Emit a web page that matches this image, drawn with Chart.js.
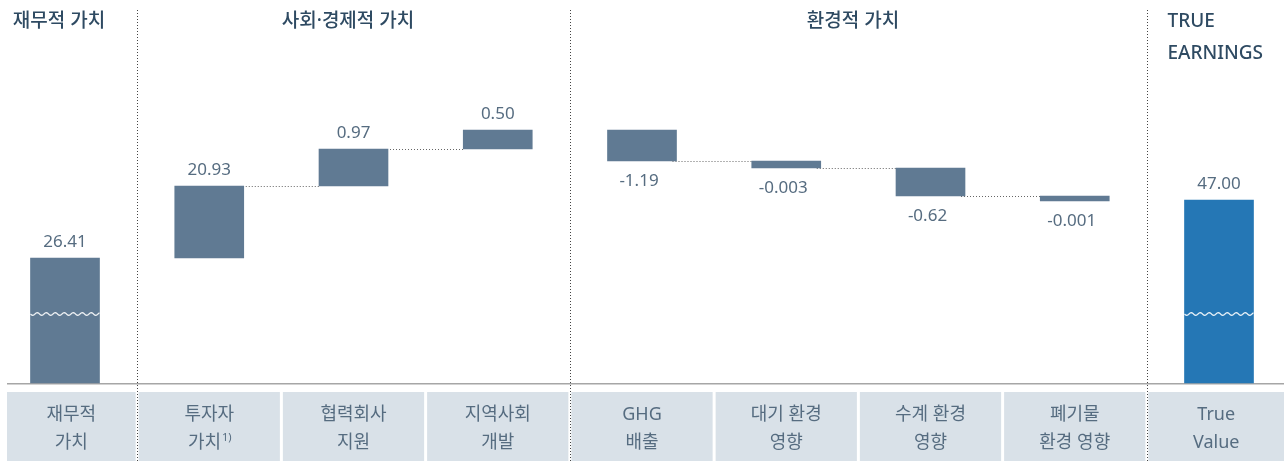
<!DOCTYPE html>
<html>
<head>
<meta charset="utf-8">
<script src="https://cdn.jsdelivr.net/npm/chart.js@4.4.1/dist/chart.umd.min.js"></script>
<style>
    html, body { margin: 0; padding: 0; background: #fff; }
    #wrap { width: 1284px; height: 461px; position: relative; }
</style>
</head>
<body>
<div id="wrap"><canvas id="chart"></canvas></div>
<script>
const categories = [
    ['재무적', '가치'], ['투자자', '가치'], ['협력회사', '지원'], ['지역사회', '개발'],
    ['GHG', '배출'], ['대기 환경', '영향'], ['수계 환경', '영향'], ['폐기물', '환경 영향'],
    ['True', 'Value']
];
const footnotes = ['', '1)', '', '', '', '', '', '', ''];
const valueLabels = ['26.41', '20.93', '0.97', '0.50', '-1.19', '-0.003', '-0.62', '-0.001', '47.00'];

// the drawing is not to scale (broken axis), so bar extents are read off the picture
const barStart = [0, 125, 197, 234, 253, 222, 215, 187, 0];
const barEnd = [125, 197, 234, 253, 222, 215, 187, 182, 183];

const groupTitles = [['재무적 가치'], ['사회·경제적 가치'], ['환경적 가치'], ['TRUE', 'EARNINGS']];
const groupFirst = [0, 1, 4, 8];
const brokenBars = [0, 8];

const BAR = '#607a93';
const TOTAL = '#2577b5';
const TEXT = '#566c80';
const HEAD = '#2e4a62';
const FONT = '"Noto Sans", "Noto Sans CJK KR", sans-serif';

const decor = {
    id: 'decor',
    beforeDatasetsDraw(chart) {
        const { ctx, scales: { x, y } } = chart;
        const step = x.getPixelForValue(1) - x.getPixelForValue(0);
        const n = categories.length;
        ctx.save();

        // category boxes + labels
        categories.forEach((lines, i) => {
            const cx = x.getPixelForValue(i);
            const left = i === 0 ? 7 : cx - step / 2 + 1.5;
            const right = i === n - 1 ? chart.width : cx + step / 2 - 1.5;
            ctx.fillStyle = '#d9e1e8';
            ctx.fillRect(left, 392, right - left, chart.height - 392);

            const mid = (left + right) / 2;
            ctx.fillStyle = TEXT;
            ctx.font = `18px ${FONT}`;
            ctx.textBaseline = 'middle';
            lines.forEach((line, k) => {
                const ty = 415 + k * 28;
                if (k === 1 && footnotes[i]) {
                    ctx.font = `18px ${FONT}`;
                    const w1 = ctx.measureText(line).width;
                    ctx.font = `11px ${FONT}`;
                    const w2 = ctx.measureText(footnotes[i]).width;
                    const start = mid - (w1 + w2) / 2;
                    ctx.textAlign = 'left';
                    ctx.font = `18px ${FONT}`;
                    ctx.fillText(line, start, ty);
                    ctx.font = `11px ${FONT}`;
                    ctx.fillText(footnotes[i], start + w1 + 1, ty - 5);
                    ctx.font = `18px ${FONT}`;
                } else {
                    ctx.textAlign = 'center';
                    ctx.fillText(line, mid, ty);
                }
            });
        });

        // baseline
        ctx.strokeStyle = '#a6a6a6';
        ctx.lineWidth = 1.5;
        ctx.beginPath();
        ctx.moveTo(7, y.getPixelForValue(0) + 0.75);
        ctx.lineTo(chart.width, y.getPixelForValue(0) + 0.75);
        ctx.stroke();

        // group separators and titles
        ctx.setLineDash([1, 2]);
        ctx.strokeStyle = '#444';
        ctx.lineWidth = 1;
        const seps = [];
        groupFirst.forEach((first, g) => {
            if (g === 0) return;
            const sx = Math.round((x.getPixelForValue(first - 1) + x.getPixelForValue(first)) / 2) + 0.5;
            seps.push(sx);
            ctx.beginPath();
            ctx.moveTo(sx, 10);
            ctx.lineTo(sx, chart.height);
            ctx.stroke();
        });
        ctx.setLineDash([]);

        ctx.fillStyle = HEAD;
        ctx.font = `500 19px ${FONT}`;
        ctx.textBaseline = 'middle';
        groupTitles.forEach((lines, g) => {
            const left = g === 0 ? 0 : seps[g - 1];
            const right = g < seps.length ? seps[g] : chart.width;
            lines.forEach((line, k) => {
                if (lines.length > 1) {
                    ctx.textAlign = 'left';
                    ctx.fillText(line, left + 20, 22 + k * 32);
                } else {
                    ctx.textAlign = 'center';
                    ctx.fillText(line, g === 0 ? x.getPixelForValue(0) - 6 : (left + right) / 2 - 6, 22);
                }
            });
        });

        // dotted connectors between steps within a group
        const meta = chart.getDatasetMeta(0);
        ctx.setLineDash([1, 2]);
        ctx.strokeStyle = '#666';
        for (let i = 0; i < n - 1; i++) {
            if (groupFirst.includes(i + 1)) continue;
            const a = meta.data[i], b = meta.data[i + 1];
            const py = Math.round(y.getPixelForValue(barEnd[i])) + 0.5;
            ctx.beginPath();
            ctx.moveTo(a.x + a.width / 2 - 4, py);
            ctx.lineTo(b.x - b.width / 2, py);
            ctx.stroke();
        }
        ctx.restore();
    },
    afterDatasetsDraw(chart) {
        const { ctx, scales: { y } } = chart;
        const meta = chart.getDatasetMeta(0);
        ctx.save();

        // wavy break marks on the long bars
        ctx.strokeStyle = 'rgba(255,255,255,0.9)';
        ctx.lineWidth = 1.2;
        brokenBars.forEach((i) => {
            const bar = meta.data[i];
            const wy = y.getPixelForValue(69);
            ctx.beginPath();
            for (let px = 0; px <= bar.width; px++) {
                const xx = bar.x - bar.width / 2 + px;
                const yy = wy + 1.4 * Math.sin(px / 9 * Math.PI * 2);
                if (px === 0) ctx.moveTo(xx, yy); else ctx.lineTo(xx, yy);
            }
            ctx.stroke();
        });

        // value labels
        ctx.fillStyle = TEXT;
        ctx.font = `17px ${FONT}`;
        ctx.textAlign = 'center';
        ctx.textBaseline = 'middle';
        meta.data.forEach((bar, i) => {
            const up = barEnd[i] >= barStart[i];
            const top = y.getPixelForValue(Math.max(barStart[i], barEnd[i]));
            const bottom = y.getPixelForValue(Math.min(barStart[i], barEnd[i]));
            ctx.fillText(valueLabels[i], bar.x - (up ? 0 : 3), up ? top - 16 : bottom + 20);
        });
        ctx.restore();
    }
};

new Chart(document.getElementById('chart'), {
    type: 'bar',
    data: {
        labels: categories.map((c) => c.join(' ')),
        datasets: [{
            data: barStart.map((s, i) => [s, barEnd[i]]),
            backgroundColor: categories.map((_, i) => i === categories.length - 1 ? TOTAL : BAR),
            barThickness: 69,
            borderSkipped: false,
            clip: false,
        }]
    },
    options: {
        responsive: true,
        maintainAspectRatio: false,
        animation: false,
        layout: { padding: { left: 65, right: 65, top: 83, bottom: 78 } },
        plugins: { legend: { display: false }, tooltip: { enabled: false } },
        scales: {
            x: { display: false, offset: false },
            y: { display: false, min: 0, max: 300 }
        }
    },
    plugins: [decor]
});
</script>
</body>
</html>
